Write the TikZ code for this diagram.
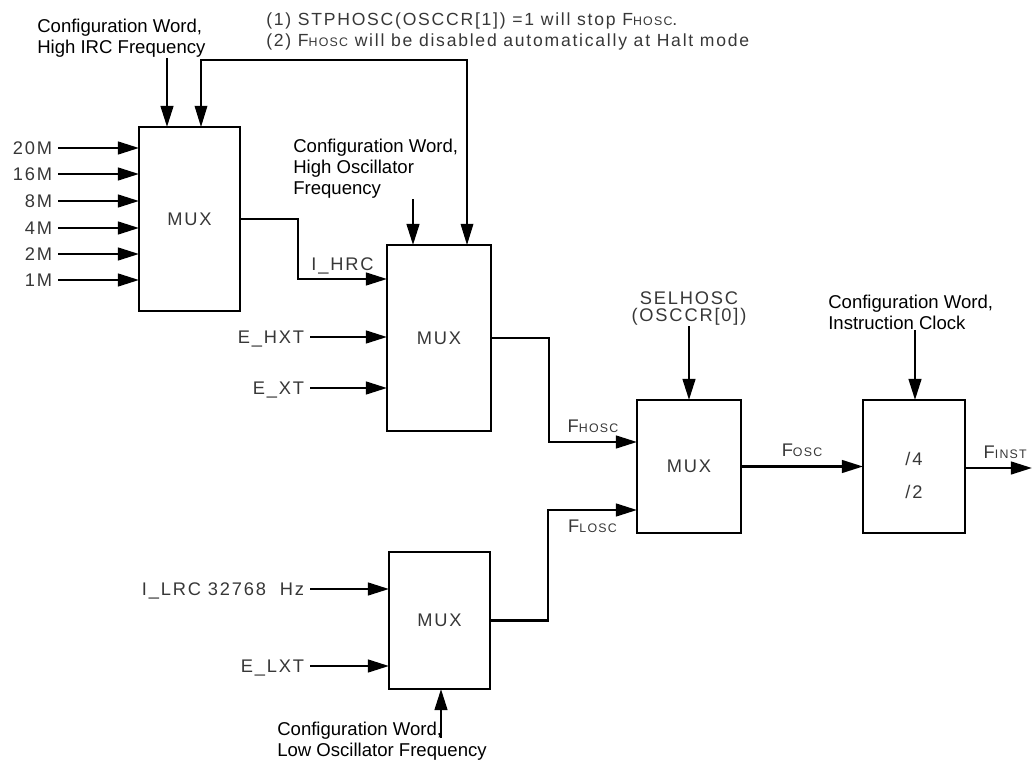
\documentclass[tikz,border=0pt]{standalone}
\usepackage{fontspec}
\setmainfont{Liberation Sans}
\newfontfamily\widesans[LetterSpace=10]{Liberation Sans}
\usetikzlibrary{arrows.meta,positioning}
\definecolor{labelgray}{RGB}{55,55,55}
\definecolor{wireblack}{RGB}{0,0,0}
\newcommand{\fsub}[1]{F{\fontsize{8.8}{9}\selectfont #1}}
\tikzset{
  muxbox/.style={draw=wireblack,line width=1.4pt,inner sep=0pt,outer sep=0pt,
    font=\widesans\fontsize{13}{24}\selectfont,text=labelgray,align=center},
  sig/.style={font=\widesans\fontsize{13}{16}\selectfont,text=labelgray,
    inner sep=4pt,text height=9.3pt,text depth=0pt},
  sel/.style={font=\widesans\fontsize{13}{12.5}\selectfont,text=labelgray,
    align=center,inner sep=0pt},
  note/.style={font=\widesans\fontsize{12.5}{15}\selectfont,text=labelgray,
    align=left,inner sep=0pt},
  cfg/.style={font=\fontsize{13.2}{15}\selectfont,text=black,align=left,inner sep=0pt},
  wire/.style={line width=1.7pt,draw=wireblack,-{Triangle[length=15pt,width=9pt]}},
  thinwire/.style={line width=0.9pt,draw=wireblack,
    {Triangle[length=15pt,width=9pt]}-{Triangle[length=15pt,width=9pt]}}
}
\begin{document}
\begin{tikzpicture}[x=0.025cm,y=-0.025cm]
\useasboundingbox (0,0) rectangle (1032,761);
% internal high RC
\node[muxbox,minimum width=2.525cm,minimum height=4.6cm] (mux1) at (189.5,219) {MUX};
\foreach \freq/\yy [count=\i] in {20M/148,16M/174,8M/201,4M/228,2M/254,1M/280}{
  \node[sig,anchor=east] (irc\i) at (58,\yy) {\freq};
  \draw[wire] (irc\i.east) -- (irc\i.east -| mux1.west);
}
\node[cfg,anchor=north west] (ircword) at (37,19) {Configuration Word,\\High IRC Frequency};
\draw[wire] (ircword.south -| 167,0) -- (mux1.north -| 167,0);

% stop note
\node[note,anchor=north west] (stopnote) at (266,12)
  {(1) STPHOSC(OSCCR[1]) =1 will stop \fsub{HOSC}.\\
   (2) \fsub{HOSC} will be disabled automatically at Halt mode};
\coordinate (stopline) at (467,60);

% high oscillator
\node[muxbox,minimum width=2.6cm,minimum height=4.65cm] (mux2) at (439,338) {MUX};
\draw[thinwire] (mux1.north -| 201,0) |- (stopline) -- (mux2.north -| 467,0);
\node[cfg,anchor=north west] (hoscword) at (293,139) {Configuration Word,\\High Oscillator\\Frequency};
\draw[wire] (hoscword.south -| 413,0) -- (mux2.north -| 413,0);
\draw[wire] (mux1.east) -- ++(58,0) |- (mux2.west |- 0,279)
  node[sig,pos=0.75,above=1pt]{I\_HRC};
\node[sig,anchor=east] (ehxt) at (310,337) {E\_HXT};
\node[sig,anchor=east] (ext) at (310,388) {E\_XT};
\draw[wire] (ehxt.east) -- (ehxt.east -| mux2.west);
\draw[wire] (ext.east) -- (ext.east -| mux2.west);

% low oscillator
\node[muxbox,minimum width=2.525cm,minimum height=3.425cm] (mux4) at (439.5,620.5) {MUX};
\node[sig,anchor=east] (ilrc) at (310,589) {I\_LRC 32768~~Hz};
\node[sig,anchor=east] (elxt) at (310,666) {E\_LXT};
\draw[wire] (ilrc.east) -- (ilrc.east -| mux4.west);
\draw[wire] (elxt.east) -- (elxt.east -| mux4.west);
\node[cfg,anchor=north west] (loscword) at (277,722) {Configuration Word,\\Low Oscillator Frequency};
\draw[wire] (loscword.north -| 441,0) ++(0,16) -- (mux4.south -| 441,0);

% select high / low
\node[muxbox,minimum width=2.6cm,minimum height=3.325cm] (mux3) at (689,466.5) {MUX};
\node[sel,anchor=south] (selhosc) at (689,326) {SELHOSC\\(OSCCR[0])};
\draw[wire] (selhosc.south) -- (mux3.north);
\draw[wire] (mux2.east) -- ++(58,0) |- (mux3.west |- 0,442)
  node[sig,pos=0.75,above=2pt]{\fsub{HOSC}};
\draw[wire] (mux4.east) -- ++(58,0) |- (mux3.west |- 0,510)
  node[sig,pos=0.75,below=2pt]{\fsub{LOSC}};

% instruction clock divider
\node[muxbox,minimum width=2.55cm,minimum height=3.325cm] (div) at (914,466.5)
  {\rule{0pt}{22pt}/4\\/2};
\node[cfg,anchor=north west] (instword) at (828,295) {Configuration Word,\\Instruction Clock};
\draw[wire] (instword.south -| 915,0) -- (div.north -| 915,0);
\draw[wire] (mux3.east) -- node[sig,above=2pt]{\fsub{OSC}} (div.west);
\coordinate (finst) at (1032,468);
\draw[wire] (div.east |- finst) -- node[sig,pos=0.6,above=2pt]{\fsub{INST}} (finst);
\end{tikzpicture}
\end{document}
